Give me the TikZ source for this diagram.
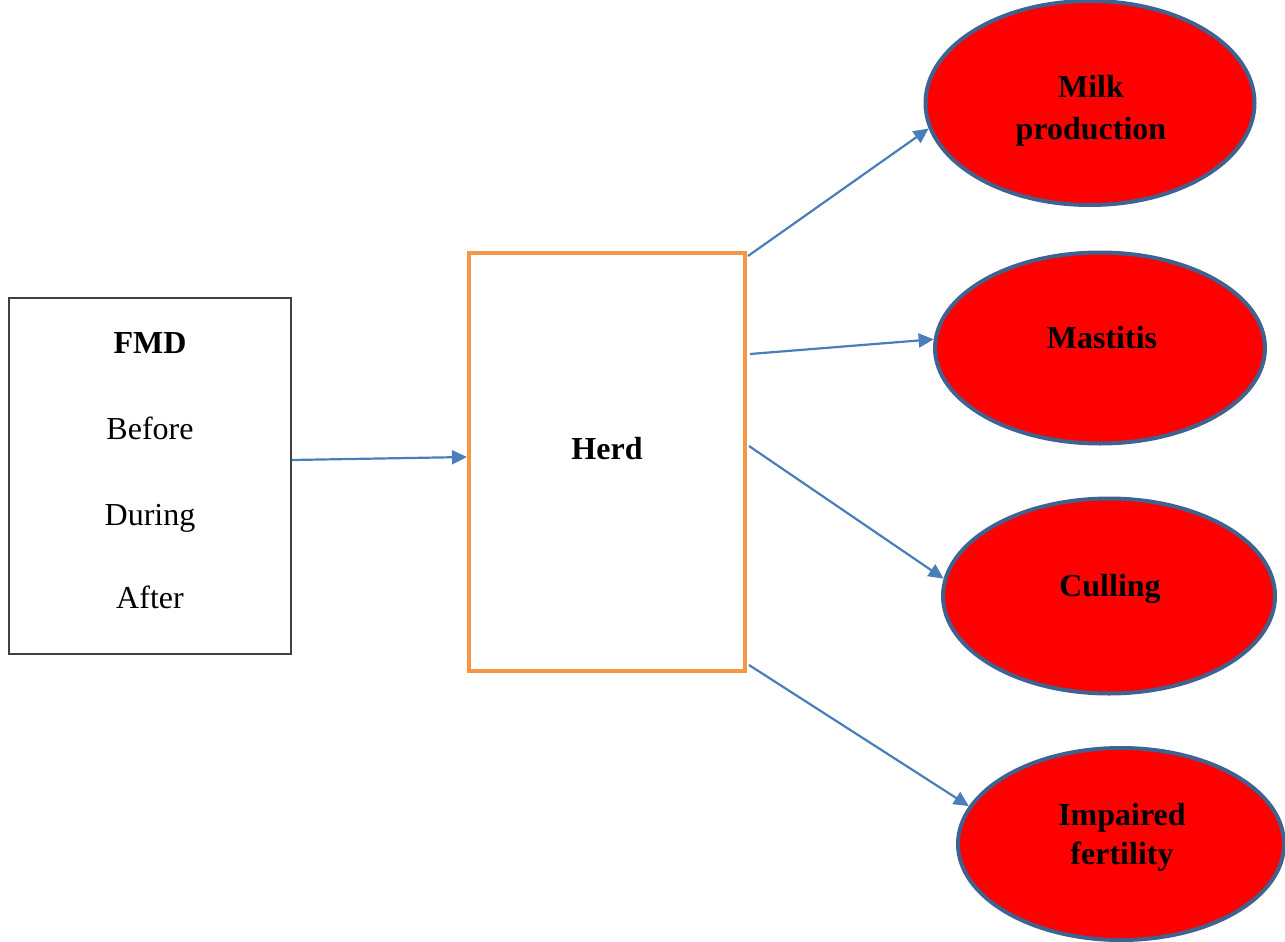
\documentclass[tikz,border=0pt]{standalone}
\usepackage{fontspec}
\setmainfont{Liberation Serif}
\usetikzlibrary{shapes.geometric,arrows.meta,calc}
\definecolor{arrowblue}{HTML}{4A7EBB}
\definecolor{herdorange}{HTML}{F79646}
\definecolor{ellborder}{HTML}{3F6290}
\begin{document}
\begin{tikzpicture}[x=0.5pt,y=-0.5pt,
  effect/.style={ellipse, draw=ellborder, line width=2pt, fill=red, inner sep=0pt},
  lbl/.style={font=\fontsize{16}{20}\selectfont, anchor=base, inner sep=0pt},
  blbl/.style={font=\fontsize{16}{20}\selectfont\bfseries, anchor=base, inner sep=0pt},
  conn/.style={draw=arrowblue, line width=1.1pt, -{Triangle[length=7.5pt,width=7pt]}}]
\useasboundingbox (0,0) rectangle (1285,942);
\clip (0,0) rectangle (1285,942);
% FMD box
\node[draw=black!75, line width=0.75pt, minimum width=141pt, minimum height=178pt, inner sep=0pt] (fmd) at (150,476) {};
\node[blbl] (fmdt) at (150,353) {FMD};
\node[lbl] (bef) at (150,439) {Before};
\node[lbl] (dur) at (150,525) {During};
\node[lbl] (aft) at (150,608) {After};
% Herd box
\node[draw=herdorange, line width=2pt, minimum width=138pt, minimum height=209pt, inner sep=0pt] (herd) at (607,462) {};
\node[blbl] (herdt) at (607,459) {Herd};
% Effects
\node[effect, minimum width=164.5pt, minimum height=102pt] (milk) at (1090,103) {};
\node[effect, minimum width=165pt, minimum height=95.5pt] (mast) at (1100,348) {};
\node[effect, minimum width=166pt, minimum height=97.5pt] (cull) at (1109,596) {};
\node[effect, minimum width=163pt, minimum height=96pt] (imp) at (1121,844) {};
\node[blbl] (milkt1) at (1091,97) {Milk};
\node[blbl] (milkt2) at (1091,139) {production};
\node[blbl] (mastt) at (1102,348) {Mastitis};
\node[blbl] (cullt) at (1110,596) {Culling};
\node[blbl] (impt1) at (1122,825) {Impaired};
\node[blbl] (impt2) at (1122,864) {fertility};
% Connectors
\draw[conn] ($(fmd.east)+(0,-16)$) -- ($(herd.west)+(0,-5)$);
\draw[conn] ($(herd.north east)+(1,5)$) -- (milk.189);
\draw[conn] ($(herd.north east)+(3,103)$) -- (mast.177);
\draw[conn] ($(herd.north east)+(2,195)$) -- (cull.174);
\draw[conn] ($(herd.south east)+(2,-8)$) -- (imp.166);
\end{tikzpicture}
\end{document}
